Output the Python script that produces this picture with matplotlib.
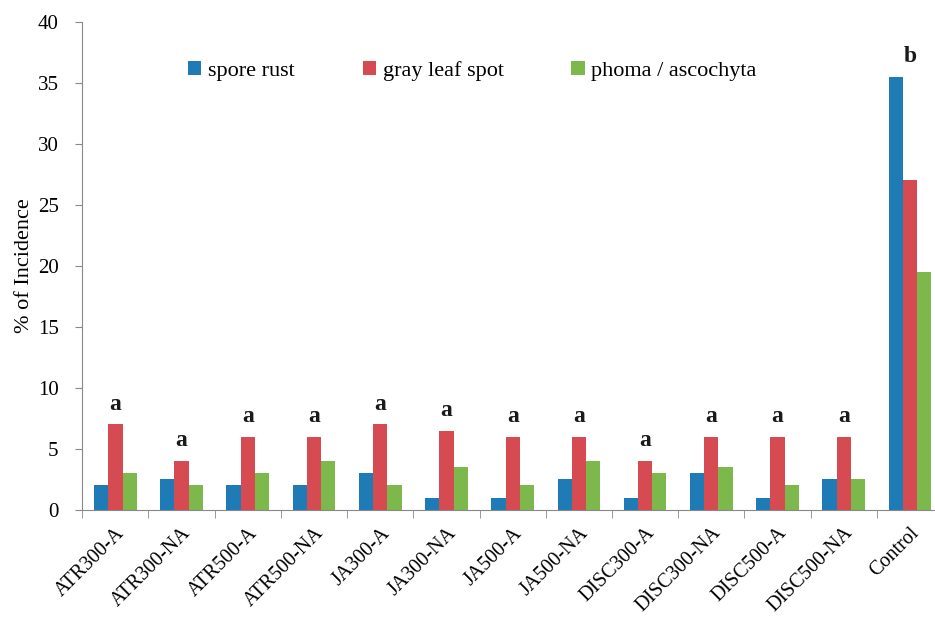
import matplotlib.pyplot as plt
import numpy as np

# treatments on the x axis
categories = ["ATR300-A", "ATR300-NA", "ATR500-A", "ATR500-NA", "JA300-A", "JA300-NA",
              "JA500-A", "JA500-NA", "DISC300-A", "DISC300-NA", "DISC500-A", "DISC500-NA", "Control"]

spore_rust = [2, 2.5, 2, 2, 3, 1, 1, 2.5, 1, 3, 1, 2.5, 35.5]
gray_leaf_spot = [7, 4, 6, 6, 7, 6.5, 6, 6, 4, 6, 6, 6, 27]
phoma_ascochyta = [3, 2, 3, 4, 2, 3.5, 2, 4, 3, 3.5, 2, 2.5, 19.5]

letters = ["a"] * 12 + ["b"]

series = [
    ("spore rust", spore_rust, "#1f7bb6"),
    ("gray leaf spot", gray_leaf_spot, "#d64a52"),
    ("phoma / ascochyta", phoma_ascochyta, "#7cb84c"),
]

plt.rcParams["font.family"] = ["Liberation Serif", "DejaVu Serif"]

fig = plt.figure(figsize=(9.35, 6.24), dpi=100)
ax = fig.add_axes([0.088, 0.183, 0.915, 0.782])

x = np.arange(len(categories))
w = 0.215
for i, (name, vals, col) in enumerate(series):
    ax.bar(x + (i - 1) * w, vals, width=w, color=col, label=name)

# significance letters above each group
for xi, lab, a, b, c in zip(x, letters, spore_rust, gray_leaf_spot, phoma_ascochyta):
    top = max(a, b, c)
    ax.text(xi, top + 0.8, lab, ha="center", va="bottom", fontsize=17,
            fontweight="bold", color="#1a1a1a")

ax.set_ylim(0, 40)
ax.set_xlim(-0.5, 12.42)
ax.set_yticks(range(0, 41, 5))
ax.set_ylabel("% of Incidence", fontsize=16, labelpad=3)

ax.set_xticks(x)
ax.set_xticklabels(categories, rotation=45, ha="right", rotation_mode="anchor", fontsize=14.5)
ax.tick_params(axis="x", which="major", length=0, pad=10)
ax.set_xticks(np.arange(-0.5, 12.5, 1), minor=True)
ax.tick_params(axis="x", which="minor", length=6, color="#888888", direction="out")
ax.tick_params(axis="y", labelsize=15, length=5, color="#888888", pad=12)

for s in ["top", "right"]:
    ax.spines[s].set_visible(False)
for s in ["left", "bottom"]:
    ax.spines[s].set_color("#888888")

ax.legend(loc="upper center", bbox_to_anchor=(0.456, 0.96), ncol=3, frameon=False,
          fontsize=16, handlelength=0.6, handleheight=0.6, handletextpad=0.3,
          columnspacing=3.05)

fig.savefig("out.png", dpi=100)
